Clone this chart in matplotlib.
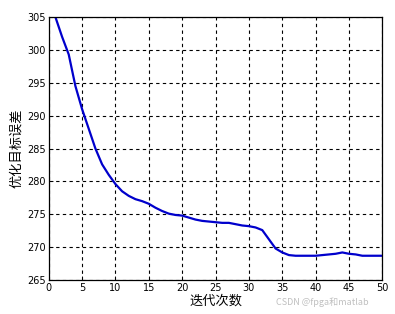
import matplotlib
matplotlib.use("Agg")
import matplotlib.pyplot as plt

plt.rcParams['font.family'] = ['Noto Sans CJK SC', 'DejaVu Sans']

iterations = list(range(1, 51))
error = [305.0, 302.0, 299.3, 294.5, 291.0, 288.0, 285.0, 282.6, 281.0, 279.6,
         278.5, 277.8, 277.3, 277.0, 276.6, 276.0, 275.5, 275.1, 274.9, 274.8,
         274.5, 274.2, 274.0, 273.9, 273.8, 273.7, 273.7, 273.5, 273.3, 273.2,
         273.0, 272.6, 271.2, 269.8, 269.2, 268.8, 268.7, 268.7, 268.7, 268.7,
         268.8, 268.9, 269.0, 269.2, 269.0, 268.9, 268.7, 268.7, 268.7, 268.7]
xticks = [0, 5, 10, 15, 20, 25, 30, 35, 40, 45, 50]
yticks = [265, 270, 275, 280, 285, 290, 295, 300, 305]

fig = plt.figure(figsize=(3.95, 3.14), dpi=100)
ax = fig.add_axes([0.1233, 0.108, 0.8447, 0.838])
ax.plot(iterations, error, color='#0000CC', linewidth=1.6)
ax.set_xlim(0, 50)
ax.set_ylim(265, 305)
ax.set_xticks(xticks)
ax.set_yticks(yticks)
ax.set_xticklabels([str(t) for t in xticks], family='DejaVu Sans')
ax.set_yticklabels([str(t) for t in yticks], family='DejaVu Sans')
ax.tick_params(direction='in', labelsize=7, length=3, width=0.6, pad=2)
ax.grid(True, color='black', linestyle=(0, (3, 3)), linewidth=0.8)
for s in ax.spines.values():
    s.set_linewidth(0.9)
ax.set_xlabel('迭代次数', fontsize=9.5, labelpad=1)
ax.set_ylabel('优化目标误差', fontsize=9.5, labelpad=3)
fig.text(0.70, 0.03, 'CSDN @fpga和matlab', fontsize=6.5, color='#b0b0b0', alpha=0.8)

fig.savefig('out.png', dpi=100)
